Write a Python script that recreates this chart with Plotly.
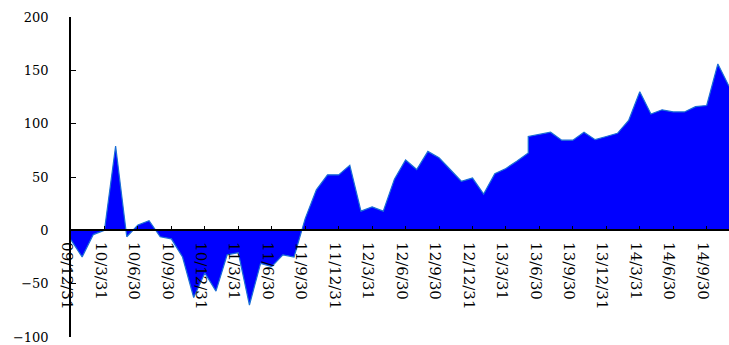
import calendar
import plotly.graph_objects as go

months = []
for y in range(2009, 2015):
    for m in range(1, 13):
        if (y == 2009 and m < 12) or (y == 2014 and m > 11):
            continue
        d = calendar.monthrange(y, m)[1]
        months.append(f"{y % 100:02d}/{m}/{d}")

values = [-9, -25, -4, 0, 79, -6, 5, 9, -6, -8,
          -25, -63, -40, -57, -23, -21, -70, -31, -34, -23,
          -25, 11, 38, 52, 52, 61, 18, 22, 18, 48,
          66, 57, 74, 68, 57, 46, 49, 34, 53, 58,
          65, 72.5, 88, 90, 92, 84.5, 84.5, 92, 85, 88,
          91, 103, 130, 109, 113, 111, 111, 116, 117, 156, 135]

# category labels (one duplicate month at 13/5/31 creates the vertical step)
cats = months[:42] + [months[41]] + months[42:]

tick_vals = months[0::3]
tick_text = tick_vals

fig = go.Figure()
fig.add_trace(go.Scatter(
    x=cats, y=values, mode="lines", fill="tozeroy",
    fillcolor="#0000FF", line=dict(color="#1A6FD6", width=1.2),
    hoverinfo="skip"))

xfont = dict(family="DejaVu Serif", size=15, color="#000000")
yfont = dict(family="DejaVu Serif", size=13, color="#000000")
fig.update_layout(
    width=729, height=345,
    margin=dict(l=71, r=0, t=17, b=8),
    paper_bgcolor="white", plot_bgcolor="white",
    showlegend=False,
    xaxis=dict(type="category", categoryorder="array", categoryarray=months,
               range=[0, len(months) - 1],
               tickmode="array", tickvals=tick_vals, ticktext=tick_text,
               tickangle=90, tickfont=xfont, ticks="inside", ticklen=4,
               tickcolor="black", showline=True, linecolor="black", linewidth=1.5,
               showgrid=False, zeroline=False, anchor="free", position=1/3,
               ticklabelstandoff=8, ticklabelshift=-4, layer="above traces"),
    yaxis=dict(range=[-100, 200], dtick=50, tickfont=yfont, ticks="inside",
               ticklen=5, tickcolor="black", showline=True, linecolor="black",
               linewidth=1.5, showgrid=False, zeroline=False,
               ticklabelstandoff=18, ticklabeloverflow="allow",
               layer="above traces"),
)
fig.write_html("out.html")
